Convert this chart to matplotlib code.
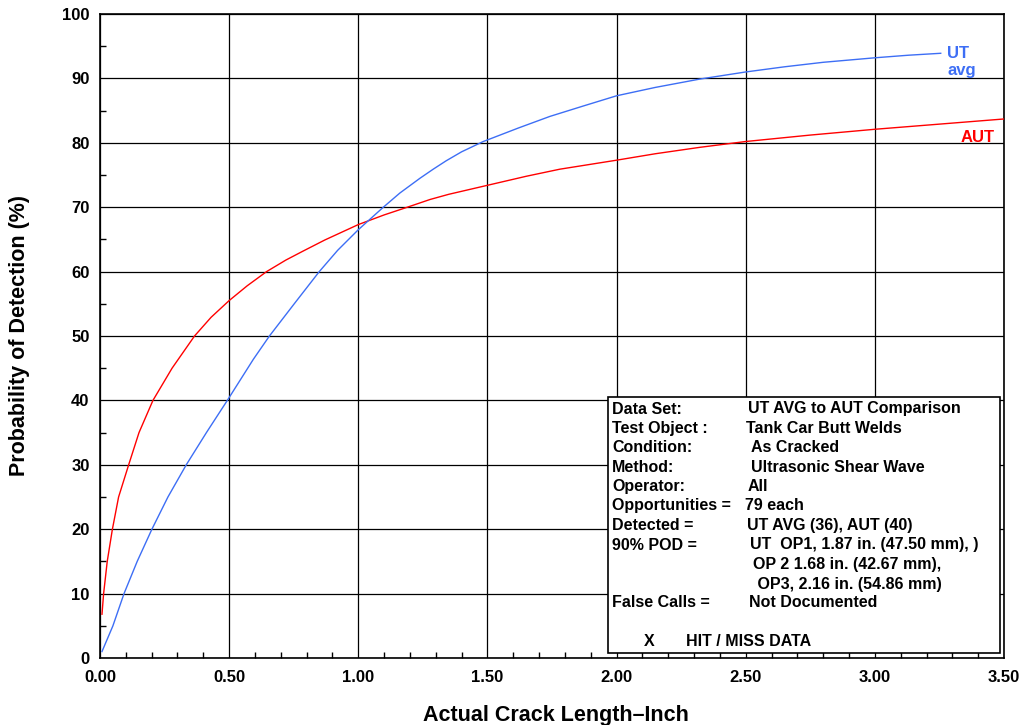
import matplotlib.pyplot as plt
from matplotlib.ticker import MultipleLocator
from matplotlib.patches import Rectangle

plt.rcParams['font.family'] = ['Liberation Sans', 'DejaVu Sans']
plt.rcParams['font.weight'] = 'bold'

# POD curves (crack length in inches, POD in %)
aut_x = [0.0077, 0.014, 0.028, 0.048, 0.072, 0.111, 0.151, 0.205, 0.279, 0.366,
         0.43, 0.5, 0.57, 0.645, 0.72, 0.787, 0.87, 1.0, 1.1, 1.19, 1.278, 1.35,
         1.5, 1.65, 1.78, 2.0, 2.15, 2.323, 2.5, 2.75, 3.0, 3.25, 3.5]
aut_y = [6.8, 10.0, 15.0, 20.0, 25.0, 30.0, 35.0, 40.0, 45.0, 50.0,
         52.9, 55.5, 57.8, 60.0, 61.8, 63.2, 64.9, 67.3, 68.8, 70.0, 71.2, 72.0,
         73.4, 74.8, 75.9, 77.3, 78.3, 79.3, 80.2, 81.2, 82.1, 82.9, 83.7]

ut_x = [0.0077, 0.05, 0.093, 0.144, 0.201, 0.263, 0.334, 0.412, 0.493, 0.594,
        0.656, 0.752, 0.849, 0.92, 1.0, 1.097, 1.161, 1.239, 1.29, 1.34, 1.4, 1.484,
        1.62, 1.742, 1.87, 2.0, 2.15, 2.323, 2.5, 2.65, 2.8, 3.0, 3.13, 3.255]
ut_y = [1.0, 5.0, 10.0, 15.0, 20.0, 25.0, 30.0, 35.0, 40.0, 46.4,
        50.0, 55.0, 60.0, 63.3, 66.5, 70.0, 72.2, 74.5, 75.9, 77.2, 78.6, 80.2,
        82.3, 84.1, 85.7, 87.3, 88.6, 89.9, 91.0, 91.8, 92.5, 93.2, 93.6, 93.9]

info_keys = ["Data Set:", "Test Object :", "Condition:", "Method:", "Operator:",
             "Opportunities =", "Detected =", "90% POD =", "", "", "False Calls ="]
info_vals = ["UT AVG to AUT Comparison", "Tank Car Butt Welds", "As Cracked",
             "Ultrasonic Shear Wave", "All", "79 each", "UT AVG (36), AUT (40)",
             "UT  OP1, 1.87 in. (47.50 mm), )", "OP 2 1.68 in. (42.67 mm),",
             " OP3, 2.16 in. (54.86 mm)", "Not Documented"]
val_x = [748, 746, 751, 751, 748, 745, 747, 750, 753, 753, 749]

RED = "#ff0000"
BLUE = "#3d6ef5"

fig = plt.figure(figsize=(10.24, 7.25), dpi=100)
ax = fig.add_axes([100 / 1024, 1 - 658 / 725, 904 / 1024, 644 / 725])

ax.plot(aut_x, aut_y, color=RED, lw=1.0, zorder=3)
ax.plot(ut_x, ut_y, color=BLUE, lw=1.0, zorder=3)

ax.set_xlim(0, 3.5)
ax.set_ylim(0, 100)
ax.xaxis.set_major_locator(MultipleLocator(0.5))
ax.xaxis.set_minor_locator(MultipleLocator(0.1))
ax.yaxis.set_major_locator(MultipleLocator(10))
ax.yaxis.set_minor_locator(MultipleLocator(5))
ax.xaxis.set_major_formatter(lambda v, p: f"{v:.2f}")
ax.grid(True, which='major', color='black', lw=0.9)
ax.tick_params(which='major', length=0, labelsize=12)
ax.tick_params(axis='x', which='major', pad=9)
ax.tick_params(axis='y', which='major', pad=7.5)
ax.tick_params(which='minor', direction='in', length=4, width=1, color='black')
for s in ax.spines.values():
    s.set_linewidth(1.2)


def fx(px):
    return px / 1024


def fy(py):
    return 1 - py / 725


fig.text(fx(556), fy(715), "Actual Crack Length\u2013Inch", fontsize=15.5,
         fontweight='bold', ha='center', va='center')
fig.text(fx(20), fy(335), "Probability of Detection (%)", fontsize=15.5,
         fontweight='bold', ha='center', va='center', rotation=90)

# curve labels
fig.text(fx(947), fy(54), "UT", color=BLUE, fontsize=12, fontweight='bold',
         ha='left', va='center')
fig.text(fx(947), fy(71), "avg", color=BLUE, fontsize=12, fontweight='bold',
         ha='left', va='center')
fig.text(fx(995), fy(137), "AUT", color=RED, fontsize=12, fontweight='bold',
         ha='right', va='center')

# info box
box = Rectangle((fx(608), fy(653)), fx(1000) - fx(608), fy(397) - fy(653),
                transform=fig.transFigure, facecolor='white', edgecolor='black',
                lw=1.2, zorder=5)
fig.patches.append(box)

line_y = [409, 428.3, 448, 467.3, 486.7, 505.7, 525.7, 545, 565, 584.3, 602.3]
for k, v, xv, yy in zip(info_keys, info_vals, val_x, line_y):
    fig.text(fx(612), fy(yy), k, fontsize=11.5, fontweight='bold', va='center', zorder=6)
    fig.text(fx(xv), fy(yy), v, fontsize=11.5, fontweight='bold', va='center', zorder=6)
fig.text(fx(644), fy(641.7), "X", fontsize=11.5, fontweight='bold', va='center', zorder=6)
fig.text(fx(686), fy(641.7), "HIT / MISS DATA", fontsize=11.5, fontweight='bold',
         va='center', zorder=6)

fig.savefig("out.png", dpi=100)
